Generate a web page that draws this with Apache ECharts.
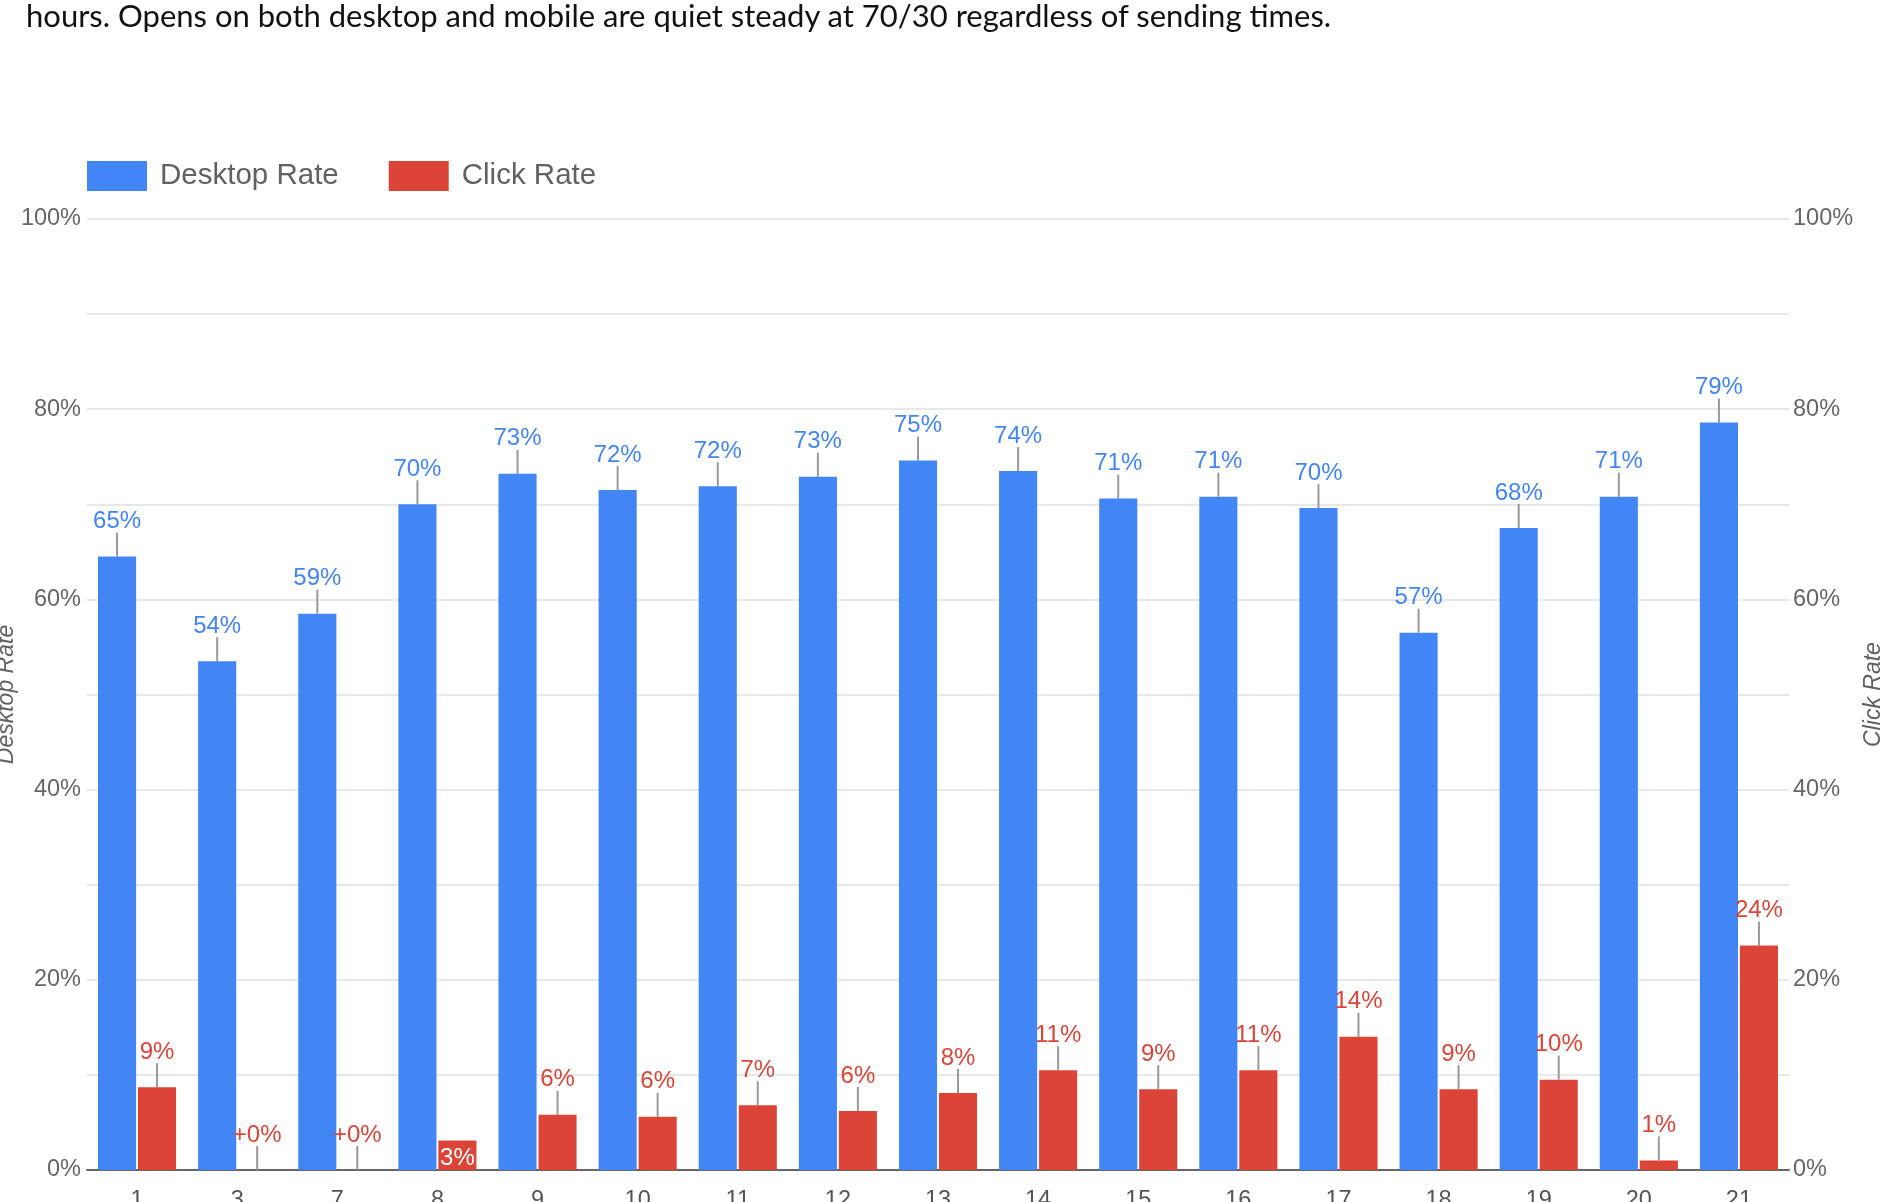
<!DOCTYPE html>
<html>
<head>
<meta charset="utf-8">
<title>Desktop Rate and Click Rate by sending hour</title>
<script src="https://cdn.jsdelivr.net/npm/echarts@6/dist/echarts.min.js"></script>
<style>
  html, body { margin: 0; padding: 0; width: 1881px; height: 1202px; overflow: hidden; background: #fff; }
  #note {
    position: absolute; left: 26px; top: -4px; margin: 0;
    font: 31px/38px Lato, "Open Sans", sans-serif; color: #111; white-space: nowrap; z-index: 2;
  }
  #chart { position: absolute; left: 0; top: 0; width: 1881px; height: 1202px; }
</style>
</head>
<body>
<p id="note">hours. Opens on both desktop and mobile are quiet steady at 70/30 regardless of sending times.</p>
<div id="chart"></div>
<script>
// Sending hour of the campaign
const sendHours = ['1', '3', '7', '8', '9', '10', '11', '12', '13', '14', '15', '16', '17', '18', '19', '20', '21'];
// Share of opens on desktop (%)
const desktopRate = [64.5, 53.5, 58.5, 70.0, 73.2, 71.5, 71.9, 72.9, 74.6, 73.5, 70.6, 70.8, 69.6, 56.5, 67.5, 70.8, 78.6];
// Click rate (%)
const clickRate = [8.7, 0, 0, 3.1, 5.8, 5.6, 6.8, 6.2, 8.1, 10.5, 8.5, 10.5, 14.0, 8.5, 9.5, 1.0, 23.6];
// Labelled ticks on both percentage axes
const percentTicks = [0, 20, 40, 60, 80, 100];

const BLUE = '#4285f4';
const RED = '#db4437';
const FONT = '"Liberation Sans", Arial, sans-serif';
const CATEGORY_GAP = 0.22;   // share of a category left empty
const BAR_GAP = 0.05;        // gap between the two bars, share of bar width
const STEM = 24;             // annotation stem length, px
// Click bars whose label sits inside the bar (no stem)
const clickInside = new Set([3]);

const fmtPct = (v) => {
  const r = Math.round(v);
  return r === 0 ? '+0%' : r + '%';
};

// Draws the short grey stem between a bar top and its label
function stemRenderer(side) {
  return function (params, api) {
    const idx = api.value(0);
    const val = api.value(1);
    const top = api.coord([idx, val]);
    const band = api.size([1, 0])[0];
    const barW = band * (1 - CATEGORY_GAP) / (2 + BAR_GAP);
    const x = top[0] + side * (barW + barW * BAR_GAP) / 2;
    return {
      type: 'line',
      silent: true,
      shape: { x1: x, y1: top[1], x2: x, y2: top[1] - STEM },
      style: { stroke: '#999', lineWidth: 2 }
    };
  };
}

const pctAxis = (showSplit, name, gap, margin) => ({
  type: 'value',
  min: 0,
  max: 100,
  interval: 10,
  name: name,
  nameLocation: 'middle',
  nameRotate: 90,
  nameGap: gap,
  nameMoveOverlap: false,
  nameTextStyle: { fontStyle: 'italic', fontSize: 23, color: '#616161', fontFamily: FONT },
  axisLine: { show: false },
  axisTick: { show: false },
  axisLabel: {
    margin: margin,
    fontSize: 23.5,
    color: '#666',
    fontFamily: FONT,
    formatter: (v) => (percentTicks.includes(v) ? v + '%' : '')
  },
  splitLine: { show: showSplit, lineStyle: { color: '#e8e8e8', width: 2 } }
});

const chart = echarts.init(document.getElementById('chart'));
chart.setOption({
  animation: false,
  backgroundColor: '#fff',
  legend: {
    data: ['Desktop Rate', 'Click Rate'],
    left: 82,
    top: 156,
    itemWidth: 60,
    itemHeight: 30,
    itemGap: 50,
    icon: 'rect',
    selectedMode: false,
    textStyle: { fontSize: 29.5, color: '#616161', fontFamily: FONT, padding: [0, 0, 0, 8] }
  },
  grid: { left: 87, right: 92, top: 219, bottom: 32, containLabel: false, outerBoundsMode: 'none' },
  xAxis: {
    type: 'category',
    data: sendHours,
    axisTick: { show: false },
    axisLine: { show: true, lineStyle: { color: '#666', width: 2 } },
    axisLabel: { margin: 19, fontSize: 23.5, color: '#555', fontFamily: FONT },
    splitLine: { show: false }
  },
  yAxis: [
    pctAxis(true, 'Desktop Rate', 69, 6),
    pctAxis(false, 'Click Rate', 73, 4)
  ],
  series: [
    {
      name: 'Desktop Rate',
      type: 'bar',
      yAxisIndex: 0,
      data: desktopRate,
      barCategoryGap: (CATEGORY_GAP * 100) + '%',
      barGap: (BAR_GAP * 100) + '%',
      itemStyle: { color: BLUE },
      label: {
        show: true, position: 'top', distance: 23,
        fontSize: 24, color: BLUE, fontFamily: FONT,
        formatter: (p) => fmtPct(p.value)
      }
    },
    {
      name: 'Click Rate',
      type: 'bar',
      yAxisIndex: 1,
      data: clickRate.map((v, i) => clickInside.has(i)
        ? { value: v, label: { position: 'insideBottom', color: '#fff', distance: 0 } }
        : v),
      barCategoryGap: (CATEGORY_GAP * 100) + '%',
      barGap: (BAR_GAP * 100) + '%',
      itemStyle: { color: RED },
      label: {
        show: true, position: 'top', distance: 23,
        fontSize: 24, color: RED, fontFamily: FONT,
        formatter: (p) => fmtPct(p.value)
      }
    },
    {
      type: 'custom',
      yAxisIndex: 0,
      silent: true,
      clip: false,
      renderItem: stemRenderer(-1),
      encode: { x: 0, y: 1 },
      data: desktopRate.map((v, i) => [i, v])
    },
    {
      type: 'custom',
      yAxisIndex: 1,
      silent: true,
      clip: false,
      renderItem: stemRenderer(1),
      encode: { x: 0, y: 1 },
      data: clickRate.map((v, i) => [i, v]).filter((d) => !clickInside.has(d[0]))
    }
  ]
});
</script>
</body>
</html>
